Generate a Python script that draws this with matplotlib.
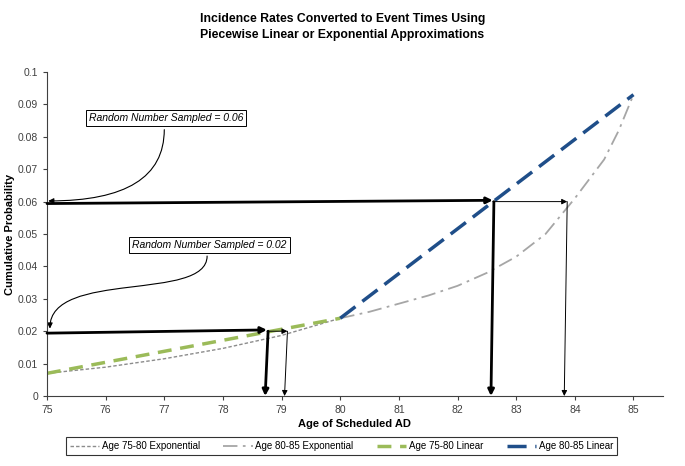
import matplotlib
matplotlib.use("Agg")
import matplotlib.pyplot as plt
from matplotlib.path import Path
from matplotlib.patches import FancyArrowPatch

plt.rcParams['font.family'] = ['Liberation Sans', 'DejaVu Sans']

# curves
ages_exp1 = [75, 76, 77, 78, 79, 80]
prob_exp1 = [0.007, 0.0089, 0.0115, 0.0147, 0.0187, 0.024]
ages_exp2 = [80, 80.5, 81, 81.5, 82, 82.5, 83, 83.5, 84, 84.5, 84.75, 85]
prob_exp2 = [0.024, 0.026, 0.0285, 0.031, 0.034, 0.038, 0.043, 0.050, 0.061, 0.073, 0.082, 0.093]
ages_lin1 = [75, 80]
prob_lin1 = [0.007, 0.024]
ages_lin2 = [80, 85]
prob_lin2 = [0.024, 0.093]

# sampled random numbers and resulting event times
draws = [0.06, 0.02]
t_linear = [82.6, 78.75]
t_exp = [83.87, 79.1]
labels = ['Random Number Sampled = 0.06', 'Random Number Sampled = 0.02']

yticks = [0, 0.01, 0.02, 0.03, 0.04, 0.05, 0.06, 0.07, 0.08, 0.09, 0.1]
ytick_labels = ['0', '0.01', '0.02', '0.03', '0.04', '0.05', '0.06', '0.07', '0.08', '0.09', '0.1']
xticks = list(range(75, 86))

fig = plt.figure(figsize=(6.85, 4.66), dpi=100)
ax = fig.add_axes([0.0686, 0.1502, 0.899, 0.6953])

ax.plot(ages_exp1, prob_exp1, color='#8c8c8c', lw=1.0, ls=(0, (2.5, 1.5)), label='Age 75-80 Exponential')
ax.plot(ages_exp2, prob_exp2, color='#a6a6a6', lw=1.3, ls=(0, (8, 3, 1.5, 3)), label='Age 80-85 Exponential')
ax.plot(ages_lin1, prob_lin1, color='#9bbb59', lw=2.5, ls=(0, (4, 2.5)), label='Age 75-80 Linear')
ax.plot(ages_lin2, prob_lin2, color='#1f4e89', lw=2.5, ls=(0, (5.5, 2.5)), label='Age 80-85 Linear')

thick = dict(arrowstyle='-|>', color='black', lw=2.0, mutation_scale=9, shrinkA=0, shrinkB=0)
thin = dict(arrowstyle='-|>', color='black', lw=0.7, mutation_scale=8, shrinkA=0, shrinkB=0)
for p, tl, te in zip(draws, t_linear, t_exp):
    # horizontal to the linear curve, then on to the exponential curve
    ax.annotate('', xy=(tl, p + 0.0004), xytext=(75, p - 0.0006), arrowprops=thick)
    ax.annotate('', xy=(te, p), xytext=(tl, p), arrowprops=thin)
    # drop down to the x axis
    ax.annotate('', xy=(tl - 0.03, 0), xytext=(tl + 0.02, p), arrowprops=thick)
    ax.annotate('', xy=(te - 0.05, 0), xytext=(te, p), arrowprops=thin)

box = dict(boxstyle='square,pad=0.3', fc='white', ec='black', lw=0.7)
ax.text(77.03, 0.0857, labels[0], fontsize=7.5, style='italic', ha='center', va='center', bbox=box)
ax.text(77.77, 0.0466, labels[1], fontsize=7.5, style='italic', ha='center', va='center', bbox=box)

ax.annotate('', xy=(75.02, 0.0602), xytext=(77.0, 0.0822),
            arrowprops=dict(arrowstyle='-|>', color='black', lw=0.8, mutation_scale=8,
                            shrinkA=0, shrinkB=0, connectionstyle='angle3,angleA=-90,angleB=0'))
s_curve = Path([(77.73, 0.0432), (77.73, 0.029), (75.05, 0.039), (75.05, 0.0208)],
               [Path.MOVETO, Path.CURVE4, Path.CURVE4, Path.CURVE4])
ax.add_patch(FancyArrowPatch(path=s_curve, arrowstyle='-|>', color='black', lw=0.8,
                             mutation_scale=8, transform=ax.transData))

ax.set_xlim(75, 85.5)
ax.set_ylim(0, 0.1)
ax.set_xticks(xticks)
ax.set_yticks(yticks)
ax.set_yticklabels(ytick_labels)
ax.tick_params(labelsize=7.5, labelcolor='#404040', length=3, width=0.8, color='#404040')
for side in ['top', 'right']:
    ax.spines[side].set_visible(False)
for side in ['left', 'bottom']:
    ax.spines[side].set_color('#404040')
    ax.spines[side].set_linewidth(0.8)

ax.set_xlabel('Age of Scheduled AD', fontsize=8, fontweight='bold', labelpad=3)
ax.set_ylabel('Cumulative Probability', fontsize=8, fontweight='bold', labelpad=2)
fig.suptitle('Incidence Rates Converted to Event Times Using\nPiecewise Linear or Exponential Approximations',
             fontsize=8.8, fontweight='bold', y=0.972, linespacing=1.45)

leg = ax.legend(loc='center', bbox_to_anchor=(0.4985, 0.043), bbox_transform=fig.transFigure,
                ncol=4, fontsize=7, frameon=True, fancybox=False, handlelength=3.0,
                columnspacing=2.4, handletextpad=0.3, borderpad=0.4)
leg.get_frame().set_edgecolor('black')
leg.get_frame().set_linewidth(0.8)

fig.savefig('out.png', dpi=100)
